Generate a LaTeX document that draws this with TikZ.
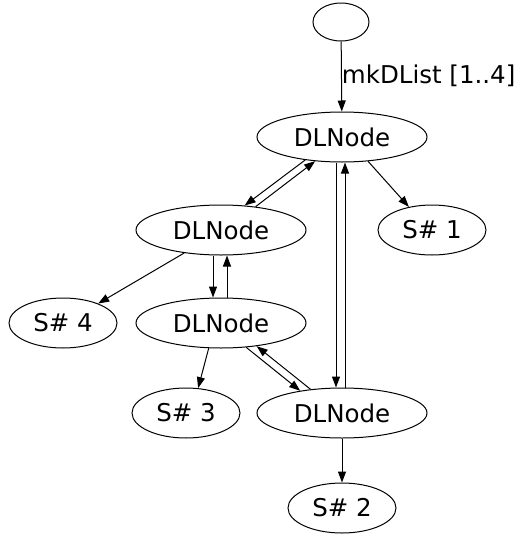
\documentclass[tikz,border=0pt]{standalone}
\usepackage{fontspec}
\setmainfont{DejaVu Sans}
\usetikzlibrary{shapes.geometric, arrows.meta}

\begin{document}
\begin{tikzpicture}[x=1pt, y=-1pt, line width=1pt,
    >={Triangle[length=11pt,width=8pt]},
    every node/.style={font=\fontsize{24.5}{28}\selectfont},
    dlnode/.style={draw, ellipse, inner sep=0pt, minimum width=170pt, minimum height=50pt},
    snode/.style={draw, ellipse, inner sep=0pt, minimum width=108pt, minimum height=50pt}]
    \useasboundingbox (0,0) rectangle (517,536);

    \node[draw, ellipse, inner sep=0pt, minimum width=56pt, minimum height=38pt] (root) at (341, 22) {};
    \node[dlnode] (d1) at (342, 137) {DLNode};
    \node[dlnode] (d2) at (221, 230) {DLNode};
    \node[snode] (s1) at (432, 230) {S\# 1};
    \node[snode] (s4) at (63, 323) {S\# 4};
    \node[dlnode] (d3) at (221, 323) {DLNode};
    \node[snode] (s3) at (186, 413) {S\# 3};
    \node[dlnode] (d4) at (342, 413) {DLNode};
    \node[snode] (s2) at (342, 508) {S\# 2};

    \draw[->] (root) -- (d1) node[midway, right, inner sep=0pt, yshift=1pt] (lbl) {mkDList [1..4]};
    \draw[->] (d1.212) -- (d2.46);
    \draw[->] (d2.34) -- (d1.222);
    \draw[->] (d1.-43) -- (s1.135);
    \draw[->] ([xshift=-6pt]d1.south) -- ([xshift=-6pt]d4.north);
    \draw[->] ([xshift=3pt]d4.north) -- ([xshift=3pt]d1.south);
    \draw[->] (d2.212) -- (s4.29);
    \draw[->] ([xshift=-8pt]d2.south) -- ([xshift=-8pt]d3.north);
    \draw[->] ([xshift=6pt]d3.north) -- ([xshift=6pt]d2.south);
    \draw[->] (d3.244) -- (s3.64);
    \draw[->] (d3.-44) -- (d4.152);
    \draw[->] (d4.143) -- (d3.-33);
    \draw[->] (d4) -- (s2);
\end{tikzpicture}
\end{document}
